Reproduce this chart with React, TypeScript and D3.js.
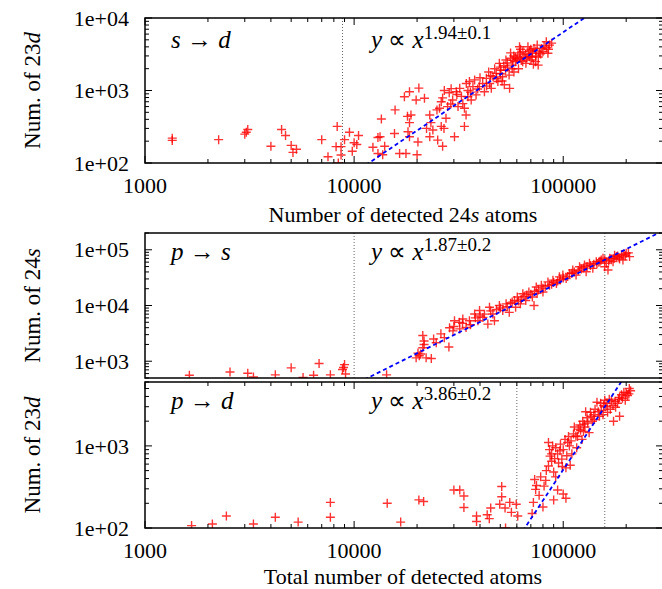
import React from "react";
import * as d3 from "d3";

const W = 662;
const H = 589;
const left = 145;
const right = 663;

// s -> d : Num. of 23d vs number of detected 24s atoms
const sdPoints: [number, number][] = [
  [1350, 220], [1350, 205], [2250, 210], [3000, 250], [3050, 265], [3100, 290], [4000, 170],
  [4500, 290], [4700, 240], [5000, 175], [5100, 140], [5300, 155], [7000, 210], [7500, 122],
  [8300, 320], [8200, 168], [8660, 168], [8660, 129], [8400, 100], [9500, 265], [9000, 210],
  [10000, 190], [10300, 180], [9800, 145], [10500, 240],
  [12300, 165], [13000, 225], [13300, 230], [13500, 405], [14000, 170], [13700, 130], [13000, 135],
  [15600, 255], [15700, 540], [16500, 135], [17700, 135], [17400, 820], [18400, 960], [18000, 440],
  [18700, 460], [18400, 360], [18400, 230], [18100, 270], [20000, 130], [20200, 195], [20400, 1080],
  [19800, 740], [21700, 780], [23000, 460], [23800, 285], [23300, 360], [22200, 300], [23000, 230],
  [25100, 207], [25600, 570], [24900, 540], [26100, 700], [26500, 170], [26100, 320], [26900, 300],
  [27500, 415], [28000, 600], [27000, 1000], [28500, 930], [26500, 790], [29100, 1060], [29600, 740],
  [30200, 230], [30800, 960], [31400, 600], [32000, 1070], [32600, 830], [33700, 320], [33700, 570],
  [34300, 460], [33100, 660], [34400, 1250], [35000, 1000], [36300, 740], [35600, 1330], [37000, 1130],
  [37700, 1400], [38300, 870], [39700, 1130], [41200, 1250], [42000, 960], [42900, 1470], [44500, 1250],
  [45300, 1070], [46200, 1550], [47800, 1720], [48700, 1330], [49500, 2370], [50400, 1900], [51300, 1550],
  [52300, 1200], [53200, 2640], [54100, 2100], [55100, 1630], [55400, 1070], [56100, 2780], [57100, 2240],
  [58100, 1800], [59100, 2500], [60700, 3100], [61100, 2000], [62200, 2780], [64100, 3430], [66300, 2370],
  [67800, 4020], [68900, 2930], [70100, 2640], [71300, 3260], [72500, 3800], [73800, 2500], [75100, 4230],
  [75900, 2240], [80000, 3430], [83000, 4700], [86000, 4230], [84500, 3260], [61800, 4020],
  [58000, 3000], [63000, 2600], [65000, 2900], [69000, 3500], [74000, 3000], [77000, 3300], [52000, 2200],
  [47000, 2000], [44000, 1800], [40000, 1500], [56000, 3300], [66000, 3200], [71000, 2900], [79000, 3800],
  [83000, 3900], [60000, 2700], [53000, 1900], [50000, 1700],
  [45000, 1600], [48000, 1450], [50000, 2100], [54000, 2400], [57000, 2000], [59000, 2900], [62000, 3300],
  [64000, 2500], [67000, 2800], [68000, 3100], [70000, 3700], [72000, 2300], [74000, 3500], [76000, 2900],
  [78000, 3200], [81000, 4100], [85000, 3700], [88000, 4500], [62500, 3700], [57500, 2600], [51000, 1350],
  [43000, 1150], [39000, 1050], [36000, 950], [31000, 880], [29000, 650], [35000, 820],
];

// p -> s : Num. of 24s
const psPoints: [number, number][] = [
  [1630, 560], [2550, 640], [3100, 610], [3300, 520], [4200, 570], [5000, 760], [5700, 510],
  [6400, 560], [6800, 910], [7700, 570], [8800, 710], [9000, 870], [9100, 590], [8900, 770], [14300, 570],
  [19800, 1150], [20200, 1400], [20500, 1250], [20800, 1350], [21300, 2900], [21600, 2300], [21600, 2000],
  [21300, 1750], [22100, 1150], [23400, 1120], [24700, 2150], [27000, 2650], [28400, 1800], [29700, 3500],
  [28600, 4000], [30200, 5330], [31900, 4980], [33100, 5720], [34300, 4040], [35600, 5330], [37700, 7050],
  [39100, 5330], [39800, 8110], [41300, 6120], [43600, 4640], [44400, 9310], [46100, 7050], [46900, 5330],
  [49500, 10000], [51400, 8110], [53300, 10700], [55200, 7540], [58500, 12300], [59200, 9310], [60300, 14200],
  [62400, 10700], [64100, 16300], [66200, 12300], [68500, 17500], [71200, 14200], [72500, 10000], [74300, 21500],
  [78600, 23000], [80000, 17500], [84500, 26500], [89300, 28500], [92800, 24700], [95900, 32700], [99600, 35100],
  [103300, 30500], [107100, 37600], [111100, 43300], [115200, 35100], [119700, 49700], [126400, 53300],
  [128700, 40300], [133500, 57200], [138500, 46400], [143900, 61200], [152000, 65700], [157800, 49700],
  [160700, 57200], [166900, 70500], [173100, 61200], [179700, 75500], [190000, 81000], [200000, 86900],
  [207600, 75500], [193000, 65700], [155000, 70500], [163700, 43300],
  [32000, 3800], [36000, 4500], [42000, 7000], [48000, 8500], [56000, 11000], [63000, 13000], [70000, 16000],
  [76000, 19000], [82000, 22000], [88000, 24000], [97000, 29000], [105000, 33000], [113000, 40000],
  [122000, 45000], [130000, 50000], [140000, 55000], [148000, 60000], [170000, 66000], [185000, 72000],
  [198000, 78000], [176000, 80000], [186000, 68000],
  [24000, 2500], [26000, 3100], [30000, 4200], [33000, 4800], [38000, 6000], [40000, 6500], [45000, 8000],
  [50000, 9000], [54000, 9500], [57000, 11500], [61000, 12000], [65000, 14500], [67000, 15500], [73000, 18000],
  [75000, 16500], [80000, 20500], [86000, 23000], [90000, 26000], [94000, 27500], [100000, 31000],
  [110000, 38000], [118000, 42000], [125000, 47000], [135000, 52000], [145000, 57000], [150000, 62000],
  [158000, 66000], [165000, 63000], [175000, 70000], [182000, 77000], [195000, 83000], [205000, 88000],
];

// p -> d : Num. of 23d vs total number of detected atoms
const pdPoints: [number, number][] = [
  [1670, 107], [2100, 112], [2450, 140], [3300, 112], [4200, 135], [5400, 118], [7700, 205], [7700, 135],
  [14400, 200], [16700, 118], [20400, 220], [21500, 210], [30000, 290], [32000, 290], [33500, 245],
  [33500, 178], [38500, 140], [38500, 120], [43300, 145], [44300, 130], [45000, 175], [49700, 195],
  [50800, 240], [50800, 320], [52700, 175], [55500, 205], [53000, 100], [56500, 155], [59600, 195], [60600, 140],
  [71000, 150], [72000, 205], [73800, 295], [73000, 390], [74500, 330], [76700, 250], [81000, 324],
  [82500, 380], [85000, 570], [86500, 750], [88000, 800], [85000, 1100], [90000, 480], [92000, 420],
  [94000, 290], [96500, 870], [98500, 690], [103000, 540], [105000, 1100], [108000, 580], [110000, 800],
  [115000, 1320], [118000, 1600], [123000, 1200], [126000, 1840], [130000, 2200], [133000, 1450],
  [135000, 2560], [142000, 2800], [149000, 2300], [156000, 3100], [163000, 2560], [170000, 3550],
  [178000, 2950], [186000, 3900], [195000, 4500], [203000, 4100], [207000, 5000], [186000, 2300], [174000, 2000],
  [88000, 650], [92000, 950], [95000, 620], [100000, 900], [102000, 1200], [107000, 1000], [112000, 1400],
  [120000, 1800], [125000, 1500], [128000, 2600], [138000, 2000], [145000, 3400], [152000, 2700],
  [160000, 3000], [166000, 3700], [182000, 3300], [190000, 4200], [198000, 3600], [140000, 2400],
  [116000, 950], [100000, 260], [103000, 230], [90000, 220], [80000, 180],
  [78000, 420], [83000, 500], [86000, 900], [89000, 1000], [91000, 700], [94000, 800], [97000, 1050],
  [99000, 560], [104000, 760], [106000, 1300], [109000, 1150], [113000, 1700], [117000, 1300], [121000, 1550],
  [124000, 2000], [127000, 1700], [131000, 1900], [136000, 2300], [141000, 2100], [147000, 2600],
  [151000, 3300], [155000, 2400], [158000, 3600], [162000, 3300], [168000, 2800], [173000, 3100],
  [177000, 3500], [184000, 3700], [192000, 3800], [200000, 4400], [206000, 4300], [210000, 4700],
];

const xDomain = [1000, 300000];
const xTickLabels = [1000, 10000, 100000];

type Panel = {
  key: string;
  top: number;
  bottom: number;
  yDomain: [number, number];
  yLabels: number[];
  points: [number, number][];
  fit: { exp: number; x0: number; y0: number; label: string };
  cutoffs: number[];
  transition: [string, string];
  yTitle: [string, string];
  xTicks: boolean;
  textY: number;
};

const panels: Panel[] = [
  {
    key: "sd", top: 18, bottom: 163, yDomain: [100, 10000], yLabels: [100, 1000, 10000],
    points: sdPoints, fit: { exp: 1.94, x0: 11750, y0: 100, label: "1.94±0.1" },
    cutoffs: [8800], transition: ["s", "d"], yTitle: ["Num. of 23", "d"], xTicks: true, textY: 48,
  },
  {
    key: "ps", top: 233, bottom: 378, yDomain: [500, 200000], yLabels: [1000, 10000, 100000],
    points: psPoints, fit: { exp: 1.87, x0: 11600, y0: 500, label: "1.87±0.2" },
    cutoffs: [10000, 158000], transition: ["p", "s"], yTitle: ["Num. of 24", "s"], xTicks: false, textY: 260,
  },
  {
    key: "pd", top: 382, bottom: 528, yDomain: [100, 6000], yLabels: [100, 1000],
    points: pdPoints, fit: { exp: 3.86, x0: 65500, y0: 100, label: "3.86±0.2" },
    cutoffs: [60000, 158000], transition: ["p", "d"], yTitle: ["Num. of 23", "d"], xTicks: true, textY: 409,
  },
];

const font = "'Liberation Serif', 'Times New Roman', serif";
const sciLabel = (v: number) => {
  const e = Math.round(Math.log10(v));
  return `1e+${String(e).padStart(2, "0")}`;
};
const isMajor = (v: number) => Math.abs(Math.log10(v) - Math.round(Math.log10(v))) < 1e-9;

const x = d3.scaleLog().domain(xDomain).range([left, right]);

const PanelView = ({ p }: { p: Panel }) => {
  const y = d3.scaleLog().domain(p.yDomain).range([p.bottom, p.top]);
  const clipId = `clip-${p.key}`;
  const fitY = (v: number) => p.fit.y0 * Math.pow(v / p.fit.x0, p.fit.exp);
  const fitLine = d3
    .line<number>()
    .x((d) => x(d))
    .y((d) => y(fitY(d)));
  const xt = x.ticks();
  const yt = y.ticks();
  const midY = (p.top + p.bottom) / 2;

  return (
    <g>
      <defs>
        <clipPath id={clipId}>
          <rect x={left} y={p.top} width={right - left} height={p.bottom - p.top} />
        </clipPath>
      </defs>

      {/* cutoff lines */}
      {p.cutoffs.map((c) => (
        <line key={c} x1={x(c)} x2={x(c)} y1={p.top} y2={p.bottom}
          stroke="#555" strokeWidth={0.9} strokeDasharray="1,2" />
      ))}

      <g clipPath={`url(#${clipId})`}>
        {p.points.map((d, i) => (
          <path key={i} d="M-4.5,0H4.5M0,-4.5V4.5" transform={`translate(${x(d[0])},${y(d[1])})`}
            stroke="#ff0000" strokeWidth={1.4} strokeOpacity={0.8} fill="none" />
        ))}
        <path d={fitLine(xDomain) || ""} stroke="#0000ff" strokeWidth={1.8}
          strokeDasharray="4,3" fill="none" />
      </g>

      {/* y ticks left and right */}
      {yt.map((v) => {
        const len = isMajor(v) ? 7 : 4;
        return (
          <g key={v}>
            <line x1={left} x2={left + len} y1={y(v)} y2={y(v)} stroke="#000" strokeWidth={1} />
            <line x1={right - len} x2={right} y1={y(v)} y2={y(v)} stroke="#000" strokeWidth={1} />
          </g>
        );
      })}
      {p.yLabels.map((v) => (
        <text key={v} x={left - 16} y={y(v)} dy="0.35em" textAnchor="end" fontSize={22}
          fontFamily={font}>{sciLabel(v)}</text>
      ))}

      {/* x ticks on bottom and top */}
      {p.xTicks && xt.map((v) => {
        const len = isMajor(v) ? 7 : 4;
        return (
          <g key={v}>
            <line x1={x(v)} x2={x(v)} y1={p.bottom} y2={p.bottom - len} stroke="#000" strokeWidth={1} />
            <line x1={x(v)} x2={x(v)} y1={p.top} y2={p.top + len} stroke="#000" strokeWidth={1} />
          </g>
        );
      })}
      {p.xTicks && xTickLabels.map((v) => (
        <text key={v} x={x(v)} y={p.bottom + 30} textAnchor="middle" fontSize={22}
          fontFamily={font}>{v}</text>
      ))}

      <rect x={left} y={p.top} width={right - left} height={p.bottom - p.top}
        fill="none" stroke="#000" strokeWidth={1.5} />

      {/* annotations */}
      <text x={171} y={p.textY} fontSize={25} fontFamily={font}>
        <tspan fontStyle="italic">{p.transition[0]}</tspan>
        <tspan> → </tspan>
        <tspan fontStyle="italic">{p.transition[1]}</tspan>
      </text>
      <text x={371} y={p.textY} fontSize={25} fontFamily={font}>
        <tspan fontStyle="italic">y</tspan>
        <tspan> ∝ </tspan>
        <tspan fontStyle="italic">x</tspan>
        <tspan fontSize={19} dy={-9}>{p.fit.label}</tspan>
      </text>

      <text transform={`translate(40,${midY}) rotate(-90)`} textAnchor="middle" fontSize={23}
        fontFamily={font}>
        {p.yTitle[0]}
        <tspan fontStyle="italic">{p.yTitle[1]}</tspan>
      </text>
    </g>
  );
};

export default function App() {
  return (
    <svg width={W} height={H} style={{ position: "absolute", left: 0, top: 0, background: "#fff" }}>
      <rect width={W} height={H} fill="#fff" />
      {panels.map((p) => (
        <PanelView key={p.key} p={p} />
      ))}
      <text x={403} y={222} textAnchor="middle" fontSize={22} fontFamily={font}>
        Number of detected 24<tspan fontStyle="italic">s</tspan> atoms
      </text>
      <text x={403} y={584} textAnchor="middle" fontSize={22} fontFamily={font}>
        Total number of detected atoms
      </text>
    </svg>
  );
}
